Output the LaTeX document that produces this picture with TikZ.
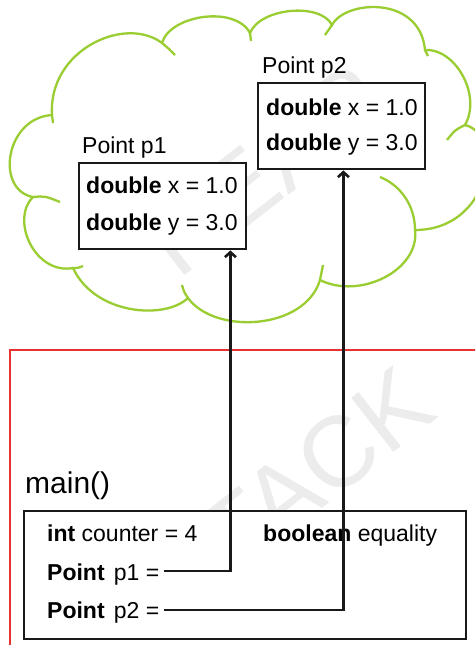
\documentclass[tikz,border=0pt]{standalone}
\usepackage{fontspec}
\setmainfont{Liberation Sans}
\usetikzlibrary{arrows.meta}
\definecolor{cloudgreen}{RGB}{154,205,50}
\definecolor{stackred}{RGB}{230,50,50}
\definecolor{wmgray}{RGB}{236,236,236}
\tikzset{
  cloudline/.style={draw=cloudgreen, line width=2.3pt},
  objbox/.style={draw=black!90, fill=white, line width=2.4pt, inner sep=0pt, anchor=north west},
  txt/.style={inner sep=0pt, anchor=base west, font=\fontsize{23}{27}\selectfont},
  ptr/.style={draw=black!90, line width=2.6pt, -{Straight Barb[length=5pt,width=11pt]}},
  wm/.style={text=wmgray, font=\fontsize{100}{100}\selectfont, rotate=38, inner sep=0pt}
}
\begin{document}
\begin{tikzpicture}[x=1pt,y=-1pt]
\useasboundingbox (0,0) rectangle (475,645);
\clip (0,0) rectangle (475,645);
\fill[white] (0,0) rectangle (475,645);
% watermarks
\node[wm] (wmheap) at (265,170) {HEAP};
\node[wm] (wmstack) at (290,490) {STACK};
% heap cloud
\draw[cloudline] (52,115) .. controls (48,50) and (125,15) .. (162,43)
  .. controls (170,15) and (235,5) .. (250,33)
  .. controls (260,8) and (320,2) .. (332,25)
  .. controls (345,0) and (420,-5) .. (425,50)
  .. controls (455,48) and (482,95) .. (465,125)
  .. controls (505,135) and (490,230) .. (415,230)
  .. controls (420,270) and (360,300) .. (320,280)
  .. controls (305,330) and (215,335) .. (188,298)
  .. controls (165,320) and (95,315) .. (73,268)
  .. controls (35,275) and (10,220) .. (33,197)
  .. controls (-5,190) and (5,118) .. (52,115);
\draw[cloudline] (162,43) .. controls (168,48) .. (175,55);
\draw[cloudline] (250,33) .. controls (251,37) .. (251,41);
\draw[cloudline] (332,25) .. controls (328,30) .. (325,35);
\draw[cloudline] (425,50) .. controls (426,53) .. (428,56);
\draw[cloudline] (465,125) .. controls (455,130) .. (447,140);
\draw[cloudline] (415,230) .. controls (415,205) and (400,185) .. (380,177);
\draw[cloudline] (320,280) .. controls (322,273) .. (323,265);
\draw[cloudline] (188,298) .. controls (184,292) .. (182,285);
\draw[cloudline] (73,268) .. controls (78,268) .. (83,266);
\draw[cloudline] (33,197) .. controls (45,196) .. (60,202);
\draw[cloudline] (52,115) .. controls (53,119) .. (53,123);
% stack frame
\draw[draw=stackred, line width=1.5pt] (10,660) -- (10,350) -- (490,350);
% object boxes
\node[objbox, minimum width=167pt, minimum height=86pt] (p1box) at (78,162) {};
\node[objbox, minimum width=167pt, minimum height=86pt] (p2box) at (257,82) {};
\node[objbox, minimum width=442pt, minimum height=128pt] (mainbox) at (23,510) {};
% texts
\node[txt] (p1label) at (82,153) {Point p1};
\node[txt] (p1x) at (86,193) {\textbf{double} x = 1.0};
\node[txt] (p1y) at (86,230) {\textbf{double} y = 3.0};
\node[txt] (p2label) at (262,73) {Point p2};
\node[txt] (p2x) at (266,115) {\textbf{double} x = 1.0};
\node[txt] (p2y) at (266,150) {\textbf{double} y = 3.0};
\node[txt, font=\fontsize{30}{34}\selectfont] (mainlbl) at (25,493) {main()};
\node[txt] (counter) at (47,541) {\textbf{int} counter = 4};
\node[txt] (equality) at (263,541) {\textbf{boolean} equality};
\node[txt] (sp1) at (47,580) {\textbf{Point}\hspace{0.4em}p1 =};
\node[txt] (sp2) at (47,618) {\textbf{Point}\hspace{0.4em}p2 =};
% pointers
\coordinate (a1) at ([xshift=-17pt]p1box.south east);
\coordinate (a2) at ([xshift=-83pt]p2box.south east);
\draw[ptr] ([shift={(5,-9)}]sp1.base east) -| (a1);
\draw[ptr] ([shift={(5,-8)}]sp2.base east) -| (a2);
\end{tikzpicture}
\end{document}
